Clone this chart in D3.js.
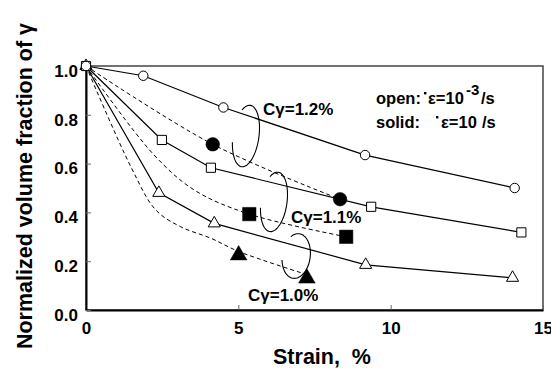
<!DOCTYPE html>
<html>
<head>
<meta charset="utf-8">
<script src="https://cdn.jsdelivr.net/npm/d3@7"></script>
<style>
  html, body { margin: 0; padding: 0; background: #fff; }
  svg { display: block; font-family: "Liberation Sans", Arial, sans-serif; }
</style>
</head>
<body>
<svg id="chart" width="551" height="370"></svg>
<script>
// Slow strain rate (open markers), per Cγ content
const strainOpen12 = [0, 1.88, 4.51, 9.16, 14.07];
const fracOpen12   = [1.0, 0.96, 0.83, 0.635, 0.50];
const strainOpen11 = [0, 2.49, 4.10, 9.36, 14.29];
const fracOpen11   = [1.0, 0.697, 0.583, 0.423, 0.318];
const strainOpen10 = [0, 2.39, 4.21, 9.18, 14.0];
const fracOpen10   = [1.0, 0.48, 0.355, 0.185, 0.132];

// Fast strain rate (solid markers)
const strainSolid12 = [4.16, 8.34];
const fracSolid12   = [0.679, 0.454];
const strainSolid11 = [5.36, 8.54];
const fracSolid11   = [0.393, 0.30];
const strainSolid10 = [5.01, 7.25];
const fracSolid10   = [0.225, 0.13];

// Dashed trend curves for the fast strain rate
const trendStrain12 = [0, 4.16, 8.34];
const trendFrac12   = [1.0, 0.679, 0.454];
const trendStrain11 = [0, 2.2, 3.55, 5.36, 8.54];
const trendFrac11   = [1.0, 0.64, 0.492, 0.393, 0.30];
const trendStrain10 = [0, 1.5, 2.29, 3.11, 4.1, 5.01, 7.25];
const trendFrac10   = [1.0, 0.58, 0.41, 0.341, 0.294, 0.24, 0.145];

// Axis ticks
const xTicks = [0, 5, 10, 15];
const yTicks = [0.0, 0.2, 0.4, 0.6, 0.8, 1.0];

// Loop annotations grouping each pair of curves
const loopLabels = ["Cγ=1.2%", "Cγ=1.1%", "Cγ=1.0%"];
const loopStrain = [5.25, 6.17, 6.9];
const loopFrac   = [0.713, 0.443, 0.221];

const svg = d3.select("#chart");
const margin = {left: 86, right: 8, top: 66, bottom: 60};
const W = 551, H = 370;

const x = d3.scaleLinear().domain([0, 15]).range([margin.left, W - margin.right]);
const y = d3.scaleLinear().domain([0, 1]).range([H - margin.bottom, margin.top]);

const zip = (a, b) => a.map((v, i) => [v, b[i]]);

// frame
svg.append("rect")
  .attr("x", x(0)).attr("y", y(1))
  .attr("width", x(15) - x(0)).attr("height", y(0) - y(1))
  .attr("fill", "none").attr("stroke", "#444").attr("stroke-width", 1.5);

// axes
const xAxis = d3.axisBottom(x).tickValues(xTicks).tickFormat(d3.format("d")).tickSizeInner(-5).tickSizeOuter(0).tickPadding(12);
const yAxis = d3.axisLeft(y).tickValues(yTicks).tickFormat(d3.format(".1f")).tickSizeInner(-5).tickSizeOuter(0).tickPadding(8);

const gx = svg.append("g").attr("transform", `translate(0,${y(0)})`).call(xAxis);
const gy = svg.append("g").attr("transform", `translate(${x(0)},0)`).call(yAxis);
[gx, gy].forEach(g => {
  g.select(".domain").attr("stroke", "#000").attr("stroke-width", 2);
  g.selectAll(".tick line").attr("stroke", "#666").attr("stroke-width", 1);
  g.selectAll(".tick text").attr("font-size", 17).attr("font-weight", "bold")
    .attr("fill", "#000").attr("font-family", "Liberation Sans, Arial, sans-serif");
});
gy.selectAll(".tick text").attr("dy", "0.6em");
gx.selectAll(".tick text").attr("dy", "0.68em");

// axis titles
svg.append("text")
  .attr("transform", `translate(32,186) rotate(-90)`)
  .attr("text-anchor", "middle")
  .attr("font-size", 21.5).attr("font-weight", "bold")
  .text("Normalized volume fraction of γ");

svg.append("text")
  .attr("x", 322).attr("y", 364)
  .attr("text-anchor", "middle")
  .attr("font-size", 21.5).attr("font-weight", "bold")
  .attr("xml:space", "preserve")
  .text("Strain,  %");

// dashed trend curves
const curveLine = d3.line().x(d => x(d[0])).y(d => y(d[1])).curve(d3.curveCatmullRom.alpha(0.5));
[[trendStrain12, trendFrac12], [trendStrain11, trendFrac11], [trendStrain10, trendFrac10]].forEach(([sx, fy]) => {
  svg.append("path").attr("d", curveLine(zip(sx, fy)))
    .attr("fill", "none").attr("stroke", "#000").attr("stroke-width", 1)
    .attr("stroke-dasharray", "4,3");
});

// solid lines for slow strain rate
const polyLine = d3.line().x(d => x(d[0])).y(d => y(d[1]));
[[strainOpen12, fracOpen12], [strainOpen11, fracOpen11], [strainOpen10, fracOpen10]].forEach(([sx, fy]) => {
  svg.append("path").attr("d", polyLine(zip(sx, fy)))
    .attr("fill", "none").attr("stroke", "#000").attr("stroke-width", 1.2);
});

// markers
function markers(sx, fy, type, size, filled) {
  svg.append("g").selectAll("path").data(zip(sx, fy)).join("path")
    .attr("transform", d => `translate(${x(d[0])},${y(d[1])})`)
    .attr("d", d3.symbol().type(type).size(size))
    .attr("fill", filled ? "#000" : "#fff")
    .attr("stroke", "#000").attr("stroke-width", filled ? 0.5 : 1);
}
markers(strainOpen10, fracOpen10, d3.symbolTriangle, 64, false);
markers(strainOpen11, fracOpen11, d3.symbolSquare, 84, false);
markers(strainOpen12, fracOpen12, d3.symbolCircle, 70, false);
markers(strainSolid12, fracSolid12, d3.symbolCircle, 145, true);
markers(strainSolid11, fracSolid11, d3.symbolSquare, 180, true);
markers(strainSolid10, fracSolid10, d3.symbolTriangle, 120, true);

// loop annotations (open ellipses around each pair of curves)
const loopRx = [13, 13, 14], loopRy = [31, 30, 22.5];
loopStrain.forEach((s, i) => {
  const pts = d3.range(235, 526, 5).map(a => {
    const t = a * Math.PI / 180;
    return [loopRx[i] * Math.cos(t), loopRy[i] * Math.sin(t)];
  });
  svg.append("path")
    .attr("transform", `translate(${x(s)},${y(loopFrac[i])}) rotate(8)`)
    .attr("d", d3.line().curve(d3.curveBasis)(pts))
    .attr("fill", "none").attr("stroke", "#000").attr("stroke-width", 1.1);
});

const labelPos = [[263, 115], [291, 223], [248, 301]];
loopLabels.forEach((t, i) => {
  svg.append("text").attr("x", labelPos[i][0]).attr("y", labelPos[i][1])
    .attr("font-size", 17).attr("font-weight", "bold").text(t);
});

// strain-rate legend
const leg = svg.append("g").attr("font-size", 16.5).attr("font-weight", "bold");
leg.append("text").attr("x", 376).attr("y", 104).text("open:");
leg.append("rect").attr("x", 424).attr("y", 92).attr("width", 2.4).attr("height", 2.4);
leg.append("text").attr("x", 428).attr("y", 104).text("ε=10");
leg.append("text").attr("x", 466).attr("y", 95).attr("font-size", 15).text("-3");
leg.append("text").attr("x", 481).attr("y", 104).text("/s");

leg.append("text").attr("x", 376).attr("y", 128).text("solid:");
leg.append("rect").attr("x", 436).attr("y", 116).attr("width", 2.4).attr("height", 2.4);
leg.append("text").attr("x", 441).attr("y", 128).text("ε=10");
leg.append("text").attr("x", 482).attr("y", 128).text("/s");
</script>
</body>
</html>
